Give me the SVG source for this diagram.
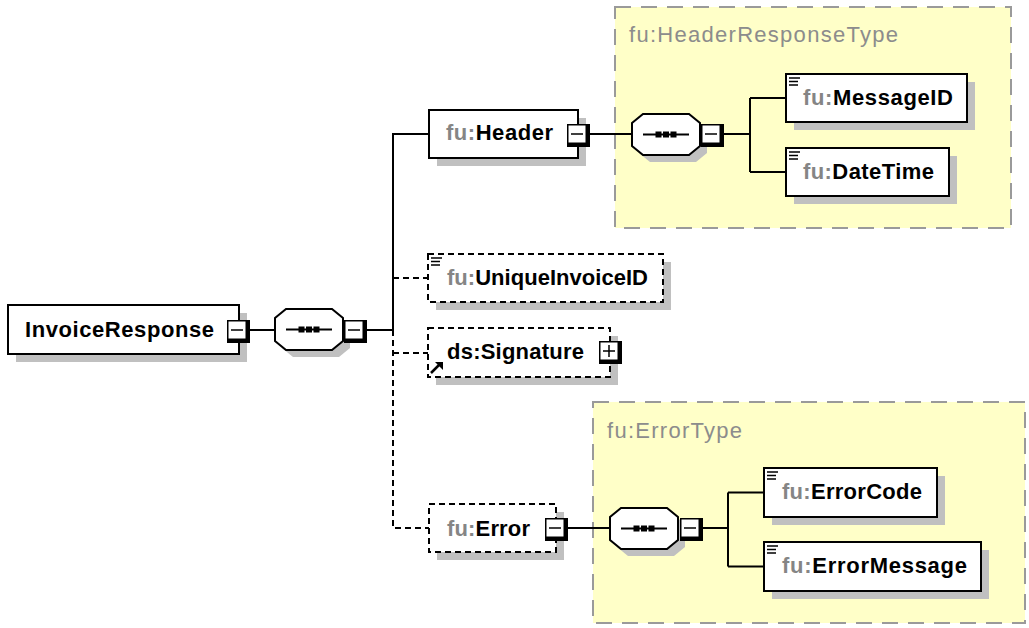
<svg xmlns="http://www.w3.org/2000/svg" xmlns:xlink="http://www.w3.org/1999/xlink" width="1029" height="628" viewBox="0 0 1029 628">
<style>
.bg{fill:#fff}
.type{fill:#ffffc8;stroke:#9a9a9a;stroke-width:2;stroke-dasharray:16 10}
.box{fill:#fff;stroke:#000;stroke-width:2}
.dash{stroke-dasharray:6 4}
.shadow{fill:#c0c0c0}
.lbl{font-family:"Liberation Sans",Arial,sans-serif;font-size:22px;font-weight:bold;fill:#000}
.pfx{fill:#858585}
.title{font-family:"Liberation Sans",Arial,sans-serif;font-size:22px;fill:#8c8c8c}
.conn{stroke:#000;stroke-width:2;fill:none}
</style>
<defs>
<g id="minus"><rect width="23" height="23" fill="#000"/><rect x="1.5" y="1.5" width="17" height="17" fill="#fff"/><path d="M4 10H16" stroke="#000" stroke-width="1.5"/></g>
<g id="plus"><rect width="23" height="23" fill="#000"/><rect x="1.5" y="1.5" width="17" height="17" fill="#fff"/><path d="M4 10H16M10 4V16" stroke="#000" stroke-width="1.5"/></g>
<g id="seq">
<path d="M18 7H64L75 16V39L64 48H18L7 39V16Z" fill="#c0c0c0"/>
<path d="M11 0H57L68 9V32L57 41H11L0 32V9Z" fill="#fff" stroke="#000" stroke-width="2"/>
<path d="M11 20.5H57" stroke="#000" stroke-width="2"/>
<rect x="23.5" y="17.5" width="6" height="6" fill="#000"/><rect x="31" y="17.5" width="6" height="6" fill="#000"/><rect x="38.5" y="17.5" width="6" height="6" fill="#000"/>
</g>
<path id="lines" d="M0 1H11M0 4.5H9M0 8H9" stroke="#000" stroke-width="1.6" fill="none"/>
</defs>
<rect class="bg" width="1029" height="628"/>

<g id="HeaderResponseType">
<rect class="type" x="615" y="7" width="396" height="221"/>
<text class="title" x="629" y="42" textLength="269">fu:HeaderResponseType</text>
</g>
<g id="ErrorType">
<rect class="type" x="593" y="402" width="432" height="221"/>
<text class="title" x="607" y="438" textLength="135">fu:ErrorType</text>
</g>

<g id="connectors">
<path class="conn" d="M250 330H275M367 330H393M393 330V134H429M590 134H632M724 134H750M750 98V172M750 98H786M750 172H786"/>
<path class="conn dash" d="M393 330V528H429M393 278H428M393 353H428"/>
<path class="conn" d="M568 528H610M703 528H728M728 492.5V566.5M728 492.5H764M728 566.5H764"/>
</g>

<g id="InvoiceResponse">
<rect class="shadow" x="16" y="313" width="231" height="49"/>
<rect class="box" x="8" y="305" width="231" height="49"/>
<text class="lbl" x="25" y="337" textLength="189">InvoiceResponse</text>
<use xlink:href="#minus" x="227" y="320"/>
</g>
<g id="seq_main"><use xlink:href="#seq" x="275" y="309"/><use xlink:href="#minus" x="344" y="320"/></g>

<g id="Header">
<rect class="shadow" x="437" y="118" width="149" height="48"/>
<rect class="box" x="429" y="110" width="149" height="48"/>
<text class="lbl" x="446" y="140" textLength="107"><tspan class="pfx">fu:</tspan>Header</text>
<use xlink:href="#minus" x="567" y="124"/>
</g>
<g id="seq_header"><use xlink:href="#seq" x="632" y="114"/><use xlink:href="#minus" x="701" y="124"/></g>

<g id="MessageID">
<rect class="shadow" x="794" y="82" width="181" height="48"/>
<rect class="box" x="786" y="74" width="181" height="48"/>
<use xlink:href="#lines" x="789" y="77"/>
<text class="lbl" x="803" y="105" textLength="150"><tspan class="pfx">fu:</tspan>MessageID</text>
</g>
<g id="DateTime">
<rect class="shadow" x="794" y="156" width="163" height="48"/>
<rect class="box" x="786" y="148" width="163" height="48"/>
<use xlink:href="#lines" x="789" y="151"/>
<text class="lbl" x="803" y="179" textLength="131"><tspan class="pfx">fu:</tspan>DateTime</text>
</g>

<g id="UniqueInvoiceID">
<rect class="shadow" x="436" y="262" width="235" height="48"/>
<rect class="box dash" x="428" y="254" width="235" height="48"/>
<use xlink:href="#lines" x="431" y="257"/>
<text class="lbl" x="447" y="285" textLength="201"><tspan class="pfx">fu:</tspan>UniqueInvoiceID</text>
</g>

<g id="Signature">
<rect class="shadow" x="436" y="336" width="182" height="49"/>
<rect class="box dash" x="428" y="328" width="182" height="49"/>
<text class="lbl" x="447" y="359" textLength="137">ds:Signature</text>
<path d="M431 373L439 365" stroke="#000" stroke-width="2.5"/>
<path d="M435 362H443V370Z" fill="#000"/>
<use xlink:href="#plus" x="599" y="341"/>
</g>

<g id="Error">
<rect class="shadow" x="437" y="512" width="127" height="48"/>
<rect class="box dash" x="429" y="504" width="127" height="48"/>
<text class="lbl" x="447" y="536" textLength="83"><tspan class="pfx">fu:</tspan>Error</text>
<use xlink:href="#minus" x="545" y="518"/>
</g>
<g id="seq_error"><use xlink:href="#seq" x="610" y="508"/><use xlink:href="#minus" x="680" y="518"/></g>

<g id="ErrorCode">
<rect class="shadow" x="772" y="476" width="173" height="49"/>
<rect class="box" x="764" y="468" width="173" height="49"/>
<use xlink:href="#lines" x="767" y="471"/>
<text class="lbl" x="782" y="499" textLength="140"><tspan class="pfx">fu:</tspan>ErrorCode</text>
</g>
<g id="ErrorMessage">
<rect class="shadow" x="772" y="550" width="217" height="49"/>
<rect class="box" x="764" y="542" width="217" height="49"/>
<use xlink:href="#lines" x="767" y="545"/>
<text class="lbl" x="782" y="573" textLength="185"><tspan class="pfx">fu:</tspan>ErrorMessage</text>
</g>
</svg>
